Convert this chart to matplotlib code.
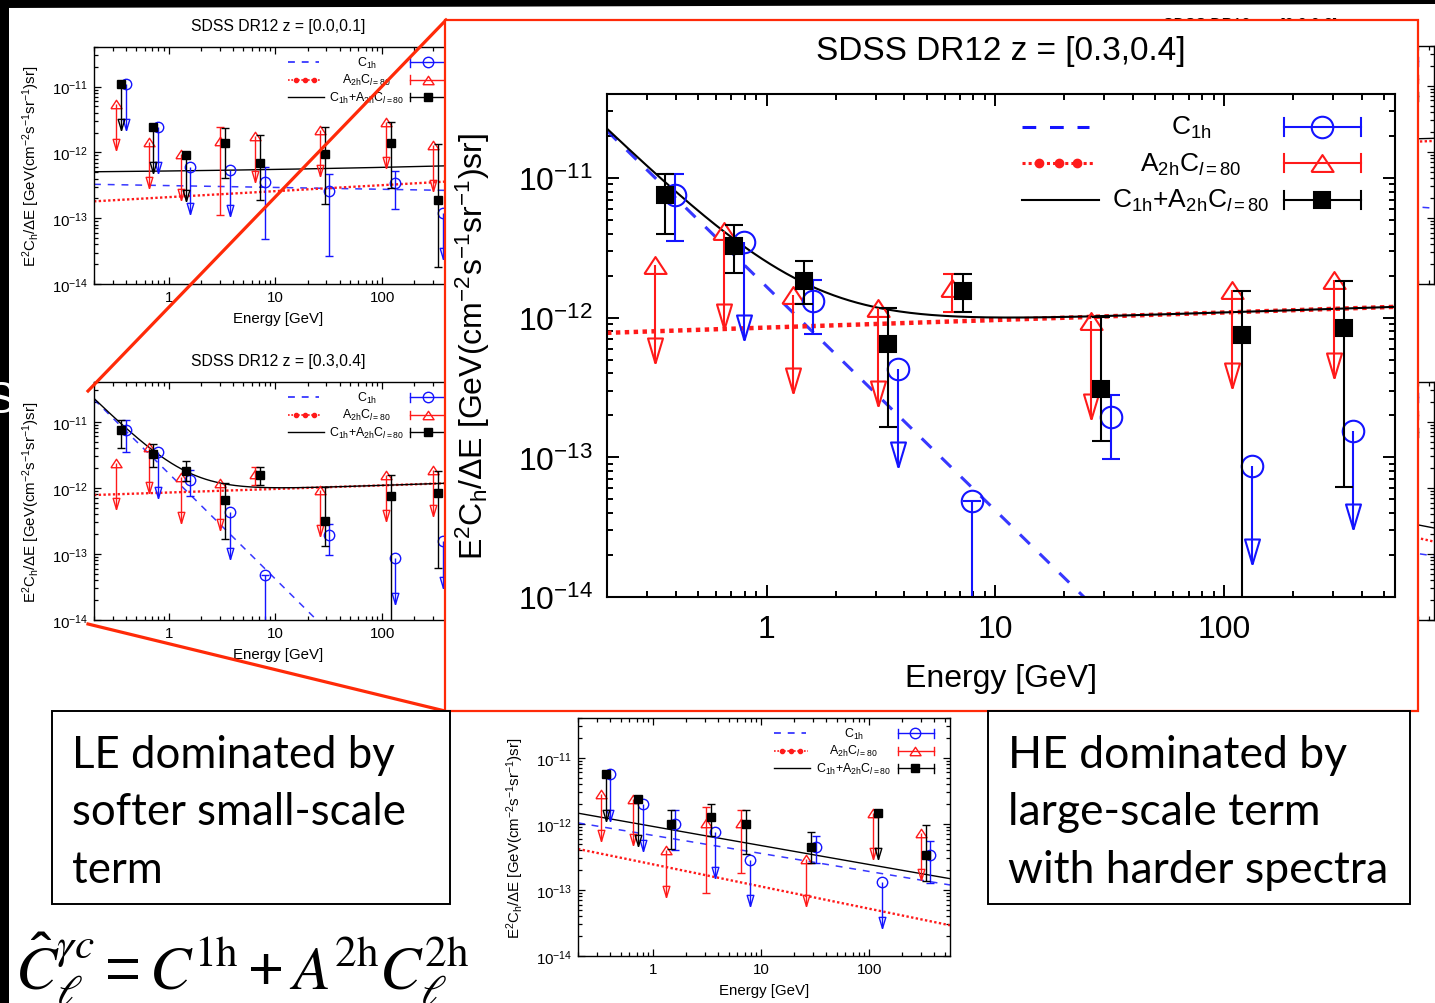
import numpy as np
import matplotlib
matplotlib.use('Agg')
import matplotlib.pyplot as plt
from matplotlib import ticker
from matplotlib.patches import Rectangle, Polygon
from matplotlib.lines import Line2D

plt.rcParams['font.family'] = 'Liberation Sans'
plt.rcParams['mathtext.fontset'] = 'custom'
plt.rcParams['mathtext.rm'] = 'Liberation Sans'
plt.rcParams['mathtext.it'] = 'Liberation Sans:italic'
plt.rcParams['mathtext.default'] = 'regular'

nan = np.nan

# ---- data ----
ENERGY = [0.36, 0.72, 1.45, 3.4, 7.2, 29, 120, 335]   # GeV, bin centres
XTICKS = [1, 10, 100]
XTICK_LABELS = ['1', '10', '100']
XLIM = (0.2, 560)
YLIM = (1e-14, 4e-11)
LEGEND_LABELS = ['C$_{1h}$', 'A$_{2h}$C$_{\\mathit{l}=80}$', 'C$_{1h}$+A$_{2h}$C$_{\\mathit{l}=80}$']

# z = [0.3,0.4]  (lo/hi = nan -> upper-limit arrow)
Z34_TOT = [7.55e-12, 3.25e-12, 1.82e-12, 6.5e-13, 1.55e-12, 3.1e-13, 7.5e-13, 8.5e-13]
Z34_TOT_LO = [3.96e-12, 2.08e-12, 1.25e-12, 1.66e-13, 1.09e-12, 1.31e-13, 1e-16, 6.15e-14]
Z34_TOT_HI = [1.07e-11, 4.6e-12, 2.54e-12, 1.17e-12, 2.05e-12, 1.02e-12, 1.55e-12, 1.82e-12]
Z34_C1H = [7.55e-12, 3.47e-12, 1.31e-12, 4.26e-13, 4.88e-14, 1.95e-13, 8.7e-14, 1.55e-13]
Z34_C1H_LO = [3.53e-12, nan, 7.6e-13, nan, 1e-16, 9.8e-14, nan, nan]
Z34_C1H_HI = [1.07e-11, nan, 1.85e-12, nan, 4.88e-14, 2.81e-13, nan, nan]
Z34_A2H = [2.37e-12, 4.17e-12, 1.45e-12, 1.17e-12, 1.62e-12, 9.4e-13, 1.57e-12, 1.85e-12]
Z34_A2H_LO = [nan, nan, nan, nan, 1.09e-12, nan, nan, nan]
Z34_A2H_HI = [nan, nan, nan, nan, 2.05e-12, nan, nan, nan]
Z34_MODEL = [(1.66e-12, -1.6), (8.5e-13, 0.054)]   # (norm at 1 GeV, index) for C1h, A2hC

# z = [0.0,0.1]
Z01_TOT = [1.08e-11, 2.45e-12, 9.1e-13, 1.4e-12, 7.0e-13, 9.4e-13, 1.37e-12, 1.91e-13]
Z01_TOT_LO = [nan, nan, nan, 4.14e-13, 1.87e-13, 1.62e-13, 2.88e-13, 1.84e-14]
Z01_TOT_HI = [nan, nan, nan, 2.37e-12, 1.83e-12, 2.4e-12, 2.93e-12, 1.33e-12]
Z01_C1H = [1.08e-11, 2.45e-12, 5.9e-13, 5.36e-13, 3.56e-13, 2.57e-13, 3.44e-13, 1.2e-13]
Z01_C1H_LO = [nan, nan, nan, nan, 4.75e-14, 2.62e-14, 1.36e-13, nan]
Z01_C1H_HI = [nan, nan, nan, nan, 6.03e-13, 4.66e-13, 5.25e-13, nan]
Z01_A2H = [5.37e-12, 1.42e-12, 9.4e-13, 1.48e-12, 1.79e-12, 2.18e-12, 2.86e-12, 1.29e-12]
Z01_A2H_LO = [nan, nan, nan, 1.1e-13, nan, nan, nan, nan]
Z01_A2H_HI = [nan, nan, nan, 2.45e-12, nan, nan, nan, nan]
Z01_MODEL = [(3.13e-13, -0.028), (2.09e-13, 0.091)]

# bottom-centre panel
ZB_TOT = [5.6e-12, 2.34e-12, 9.8e-13, 1.28e-12, 1.0e-12, 4.46e-13, 1.47e-12, 3.37e-13]
ZB_TOT_LO = [nan, nan, 4.1e-13, 6.5e-13, 3.45e-13, 2.52e-13, nan, 1.36e-13]
ZB_TOT_HI = [nan, nan, 1.6e-12, 1.97e-12, 1.62e-12, 7.5e-13, nan, 9.6e-13]
ZB_C1H = [5.6e-12, 1.97e-12, 9.8e-13, 7.6e-13, 2.83e-13, 4.46e-13, 1.33e-13, 3.37e-13]
ZB_C1H_LO = [nan, nan, 3.96e-13, nan, nan, 2.52e-13, nan, 1.29e-13]
ZB_C1H_HI = [nan, nan, 1.62e-12, nan, nan, 6.5e-13, nan, 5.48e-13]
ZB_A2H = [2.79e-12, 2.4e-12, 3.96e-13, 1.04e-12, 1.04e-12, 2.9e-13, 1.47e-12, 7.16e-13]
ZB_A2H_LO = [nan, nan, nan, 8.9e-14, 1.82e-13, nan, nan, nan]
ZB_A2H_HI = [nan, nan, nan, 1.82e-12, 1.62e-12, nan, nan, nan]
ZB_MODEL = [(6.67e-13, -0.2725), (2.43e-13, -0.335)]

# panels mostly hidden behind the zoom box
Z23_MODEL = [(3e-13, -0.12), (1.0e-12, 0.06)]
ZR2_MODEL = [(4e-13, -0.23), (1.5e-12, -0.36)]

LE_TEXT = ['LE dominated by', 'softer small-scale', 'term']
HE_TEXT = ['HE dominated by', 'large-scale term', 'with harder spectra']
FORMULA = (r'$\hat{\mathit{C}}_{\mathit{\ell}}^{\mathit{\gamma c}} = \mathit{C}^{\mathrm{1h}}'
           r' + \mathit{A}^{\mathrm{2h}}\mathit{C}_{\mathit{\ell}}^{\mathrm{2h}}$')

# ---- style ----
BLUE = '#1414ff'
RED = '#ff1a1a'
ZOOM_RED = '#ff2a08'
ARROW_DEX = 0.7   # upper-limit arrows are drawn one factor ~5 long
ARROW_HEAD = [(0, 0), (-0.3, 1), (0.3, 1), (0, 0)]
UP_TRI = [(-0.5, -0.38), (0.5, -0.38), (0, 0.38), (-0.5, -0.38)]

W, H = 1435, 1004
fig = plt.figure(figsize=(W / 100, H / 100), dpi=100)


def frect(l, t, r, b):
    return [l / W, 1 - b / H, (r - l) / W, (b - t) / H]


def fx(x):
    return x / W


def fy(y):
    return 1 - y / H


def draw_points(ax, val, lo, hi, color, marker, ms, mfc, offset, lin):
    e = np.array(ENERGY) * offset
    val, lo, hi = np.array(val), np.array(lo), np.array(hi)
    lim = np.isnan(lo)
    ok = ~lim
    lw = lin(1.5, 1.0)
    ax.errorbar(e[ok], val[ok], yerr=[val[ok] - lo[ok], hi[ok] - val[ok]], fmt='none',
                ecolor=color, elinewidth=lw, capsize=lin(6.5, 3), capthick=lw)
    tip = val[lim] * 10 ** (-ARROW_DEX)
    ax.vlines(e[lim], tip, val[lim], color=color, lw=lw)
    ax.plot(e[lim], tip, ls='none', marker=ARROW_HEAD, ms=lin(36, 16), mfc='none',
            mec=color, mew=lw)
    ax.plot(e, val, ls='none', marker=marker, ms=ms, mfc=mfc, mec=color, mew=lw)


def draw_panel(rect, title, s, model=None, series=None, labels=True, legend=True):
    def lin(big, small):
        return small + (big - small) * (s - 0.47) / 0.53

    ax = fig.add_axes(frect(*rect))
    ax.set_xscale('log')
    ax.set_yscale('log')
    ax.set_xlim(*XLIM)
    ax.set_ylim(*YLIM)
    ax.xaxis.set_major_locator(ticker.FixedLocator(XTICKS))
    ax.xaxis.set_major_formatter(ticker.FixedFormatter(XTICK_LABELS))
    ax.xaxis.set_minor_formatter(ticker.NullFormatter())
    ax.yaxis.set_minor_formatter(ticker.NullFormatter())
    ax.tick_params(which='both', direction='in', top=True, right=True,
                   width=lin(1.4, 0.9), labelsize=lin(23, 10.8))
    ax.tick_params(which='major', length=lin(8.6, 5))
    ax.tick_params(which='minor', length=lin(4.3, 2.9))
    ax.tick_params(axis='x', pad=lin(12, 4.5))
    ax.tick_params(axis='y', pad=lin(10, 4))
    for sp in ax.spines.values():
        sp.set_linewidth(lin(1.5, 1.0))
    if title:
        ax.set_title(title, fontsize=lin(24, 11.3), pad=lin(25, 12))
    if labels:
        ax.set_xlabel('Energy [GeV]', fontsize=lin(23, 10.8), labelpad=lin(14, 5))
        ax.set_ylabel('E$^2$C$_h$/ΔE [GeV(cm$^{-2}$s$^{-1}$sr$^{-1}$)sr]',
                      fontsize=lin(23, 10.8), labelpad=lin(19, 7))
    else:
        ax.tick_params(labelleft=False, labelbottom=False)

    # legend, drawn gnuplot-style
    rows = [0.935, 0.862, 0.789]
    tr = ax.transAxes
    lw = lin(1.5, 1.0)
    if legend:
        ax.plot([0.527, 0.612], [rows[0]] * 2, transform=tr, color=BLUE, lw=lin(2.2, 1.1),
                ls=(0, (4.5, 4.5)))
        ax.plot([0.527, 0.618], [rows[1]] * 2, transform=tr, color=RED, lw=lin(2.2, 1.2),
                ls=(0, (1, 1)))
        ax.plot([0.548, 0.573, 0.597], [rows[1]] * 3, transform=tr, ls='none', marker='o',
                ms=lin(6, 3), color=RED)
        ax.plot([0.527, 0.624], [rows[2]] * 2, transform=tr, color='k', lw=lin(1.5, 1.0))
        marks = [('o', BLUE, 'none', lin(15.5, 7.5)), (UP_TRI, RED, 'none', lin(16, 8)),
                 ('s', 'k', 'k', lin(11.5, 5.8))]
        for y, lab, (mk, col, fc, ms) in zip(rows, LEGEND_LABELS, marks):
            if labels:
                ax.text(0.741, y, lab, transform=tr, ha='center', va='center',
                        fontsize=lin(19, 8.9))
            ax.plot([0.859, 0.957], [y, y], transform=tr, color=col, lw=lw)
            for xc in (0.859, 0.957):
                ax.plot([xc, xc], [y - 0.018, y + 0.018], transform=tr, color=col, lw=lw)
            ax.plot(0.907, y, transform=tr, marker=mk, ms=ms, mfc=fc, mec=col, mew=lw)

    if model is not None:
        e = np.geomspace(XLIM[0], XLIM[1], 300)
        c1 = model[0][0] * e ** model[0][1]
        a2 = model[1][0] * e ** model[1][1]
        ax.plot(e, c1, color=BLUE, lw=lin(2.2, 1.1), ls=(0, (4.5, 4.5)), alpha=0.85)
        ax.plot(e, a2, color=RED, lw=lin(3.2, 1.7), ls=(0, (1, 1)))
        ax.plot(e, c1 + a2, color='k', lw=lin(1.5, 1.0))

    if series is not None:
        c1h, a2h, tot = series
        draw_points(ax, *a2h, RED, UP_TRI, lin(16, 8), 'none', 0.9, lin)
        draw_points(ax, *c1h, BLUE, 'o', lin(15.5, 7.5), 'none', 1.1, lin)
        draw_points(ax, *tot, 'k', 's', lin(11.5, 5.8), 'k', 1.0, lin)
    return ax


Z34 = ((Z34_C1H, Z34_C1H_LO, Z34_C1H_HI), (Z34_A2H, Z34_A2H_LO, Z34_A2H_HI),
       (Z34_TOT, Z34_TOT_LO, Z34_TOT_HI))
Z01 = ((Z01_C1H, Z01_C1H_LO, Z01_C1H_HI), (Z01_A2H, Z01_A2H_LO, Z01_A2H_HI),
       (Z01_TOT, Z01_TOT_LO, Z01_TOT_HI))
ZB = ((ZB_C1H, ZB_C1H_LO, ZB_C1H_HI), (ZB_A2H, ZB_A2H_LO, ZB_A2H_HI),
      (ZB_TOT, ZB_TOT_LO, ZB_TOT_HI))

# background slide panels
draw_panel((94, 48, 462, 285), 'SDSS DR12 z = [0.0,0.1]', 0.47, Z01_MODEL, Z01)
draw_panel((579, 48, 947, 285), 'SDSS DR12 z = [0.1,0.2]', 0.47, labels=False, legend=False)
draw_panel((1066, 47, 1434, 285), 'SDSS DR12 z = [0.2,0.3]', 0.47, Z23_MODEL, labels=False)
draw_panel((94, 383, 462, 621), 'SDSS DR12 z = [0.3,0.4]', 0.47, Z34_MODEL, Z34)
draw_panel((1066, 383, 1434, 621), None, 0.47, ZR2_MODEL, labels=False)
draw_panel((578, 719, 950, 957), None, 0.47, ZB_MODEL, ZB)

# zoom connectors and box
fig.add_artist(Line2D([fx(88), fx(446)], [fy(392), fy(21)], transform=fig.transFigure,
                      color=ZOOM_RED, lw=2.3, zorder=3))
fig.add_artist(Line2D([fx(88), fx(445)], [fy(625), fy(712)], transform=fig.transFigure,
                      color=ZOOM_RED, lw=2.3, zorder=3))
fig.add_artist(Rectangle((fx(445), fy(712)), (1418 - 445) / W, (712 - 21) / H,
                         transform=fig.transFigure, fc='white', ec=ZOOM_RED, lw=1.6,
                         zorder=4))
big = draw_panel((607, 95, 1395, 598), 'SDSS DR12 z = [0.3,0.4]', 1.0, Z34_MODEL, Z34)
big.set_zorder(5)

# annotation boxes
for (l, t, r, b), lines, x0, size in [((52, 712, 450, 905), LE_TEXT, 72, 31.5),
                                      ((988, 712, 1410, 905), HE_TEXT, 1008, 32)]:
    fig.add_artist(Rectangle((fx(l), fy(b)), (r - l) / W, (b - t) / H,
                             transform=fig.transFigure, fc='white', ec='k', lw=1.4,
                             zorder=6))
    for line, yb in zip(lines, [768, 825, 883]):
        fig.text(fx(x0), fy(yb), line, fontsize=size, family='Lato', va='baseline',
                 zorder=7)

fig.text(fx(15), fy(989), FORMULA, fontsize=44.5, math_fontfamily='stix', va='baseline',
         zorder=7)

# dark slide edges
fig.add_artist(Polygon([(0, 1), (1, 1), (1, fy(5)), (0, fy(9))], closed=True,
                       transform=fig.transFigure, fc='black', ec='none', zorder=10))
fig.add_artist(Rectangle((0, 0), 9 / W, 1, transform=fig.transFigure, fc='black',
                         ec='none', zorder=10))
fig.text(fx(-14), fy(413), 'S', color='white', fontsize=32, va='baseline', zorder=11)

fig.savefig('out.png', dpi=100)
